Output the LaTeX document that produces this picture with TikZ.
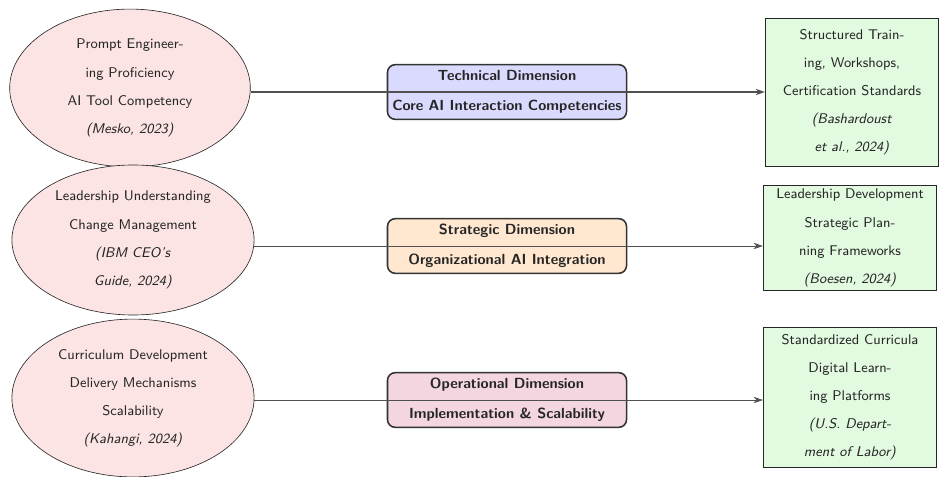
\documentclass[tikz,border=0pt]{standalone}
\usetikzlibrary{shapes.geometric,arrows.meta}
\definecolor{ellfill}{RGB}{252,228,228}
\definecolor{techfill}{RGB}{218,218,255}
\definecolor{stratfill}{RGB}{255,231,208}
\definecolor{opfill}{RGB}{244,214,224}
\definecolor{outfill}{RGB}{226,250,224}
\definecolor{linecol}{RGB}{80,80,80}
\tikzset{
  x=0.64pt, y=-0.64pt,
  txt/.style={font=\sffamily\fontsize{9}{18}\selectfont, align=center, text=black!85},
  inbox/.style={ellipse, draw=black!85, fill=ellfill, inner sep=0pt, txt},
  dimbox/.style={rectangle, rounded corners=5pt, draw=black!80, line width=1pt, inner sep=0pt,
     minimum width=153pt, minimum height=35pt, align=center, text=black!85,
     font=\sffamily\bfseries\fontsize{9.4}{19}\selectfont},
  outbox/.style={rectangle, draw=black!85, fill=outfill, inner sep=0pt, minimum width=111pt, txt},
  conn/.style={draw=linecol, -{Stealth[length=6pt,width=4pt]}},
}
\begin{document}
\begin{tikzpicture}
\useasboundingbox (0,0) rectangle (943,476);
% inputs
\node[inbox, minimum width=154pt, minimum height=101pt] (e1) at (130,88)
  {Prompt Engineer-\\ing Proficiency\\AI Tool Competency\\\textit{(Mesko, 2023)}};
\node[inbox, minimum width=155pt, minimum height=96pt] (e2) at (133,240)
  {Leadership Understanding\\Change Management\\\textit{(IBM CEO's}\\\textit{Guide, 2024)}};
\node[inbox, minimum width=155pt, minimum height=101pt] (e3) at (133,398)
  {Curriculum Development\\Delivery Mechanisms\\Scalability\\\textit{(Kahangi, 2024)}};
% dimensions
\node[dimbox, fill=techfill] (m1) at (507,92) {Technical Dimension\\Core AI Interaction Competencies};
\node[dimbox, fill=stratfill] (m2) at (507,246) {Strategic Dimension\\Organizational AI Integration};
\node[dimbox, fill=opfill] (m3) at (507,400) {Operational Dimension\\Implementation \& Scalability};
% outputs
\node[outbox, minimum height=94.7pt] (g1) at (852,92)
  {Structured Train-\\ing, Workshops,\\Certification Standards\\\textit{(Bashardoust}\\\textit{et al., 2024)}};
\node[outbox, minimum height=67pt] (g2) at (850,238)
  {Leadership Development\\Strategic Plan-\\ning Frameworks\\\textit{(Boesen, 2024)}};
\node[outbox, minimum height=89.6pt] (g3) at (850,397)
  {Standardized Curricula\\Digital Learn-\\ing Platforms\\\textit{(U.S. Depart-}\\\textit{ment of Labor)}};
% connectors
\draw[conn, line width=0.9pt] (e1.east |- m1) -- (g1.west |- m1);
\draw[conn, line width=0.5pt] (e2.east |- m2) -- (g2.west |- m2);
\draw[conn, line width=0.5pt] (e3.east |- m3) -- (g3.west |- m3);
\end{tikzpicture}
\end{document}
